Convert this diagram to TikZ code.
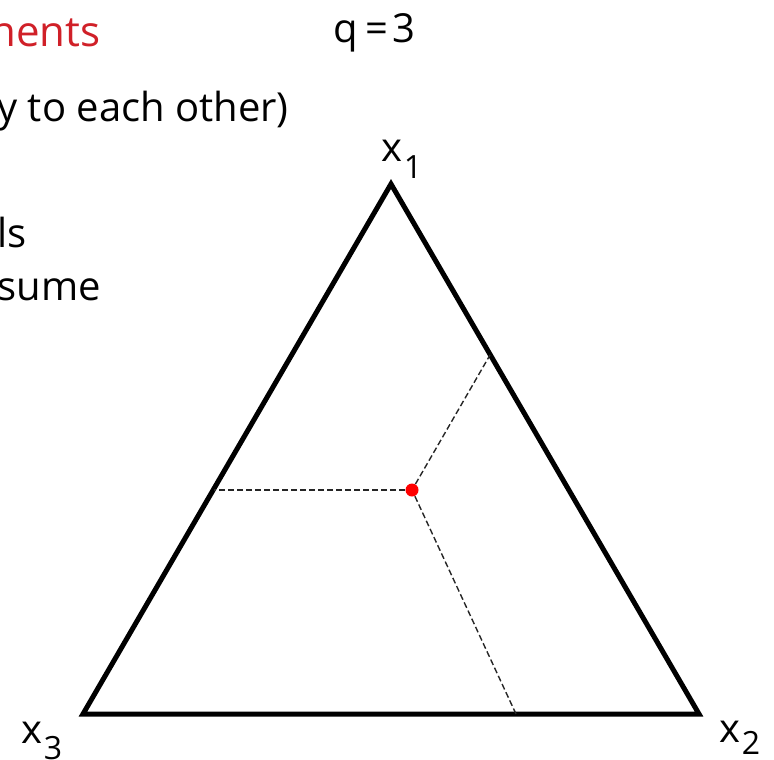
\documentclass[tikz,border=0pt]{standalone}
\usepackage{fontspec}
\setmainfont{Open Sans}
\definecolor{slideRed}{RGB}{208, 32, 40}
\newcommand{\vsub}[2][8pt]{\kern0.8pt\raisebox{-#1}{\fontsize{16}{16}\selectfont #2}}

\begin{document}
\begin{tikzpicture}[
    x=0.5pt, y=-0.5pt,
    body/.style={anchor=base west, inner sep=0pt, font=\fontsize{20}{24}\selectfont},
    heading/.style={body, text=slideRed, font=\fontsize{21}{25}\selectfont},
    vlabel/.style={anchor=base west, inner sep=0pt, font=\fontsize{20}{24}\selectfont},
    simplex/.style={line width=2.5pt, line join=miter},
    guide/.style={dash pattern=on 3pt off 1.5pt, line width=0.7pt, black!85},
    mixpt/.style={circle, fill=red, inner sep=0pt, minimum size=6.5pt},
  ]
    \useasboundingbox (0,0) rectangle (774,759);

    % slide text (cut at the left edge)
    \node[heading] (HEAD) at (-10,47) {nents};
    \node[body] (NOTE) at (-3,122) {y to each other)};
    \node[body] (LS) at (-3,247) {ls};
    \node[body] (SUME) at (-3,300) {sume};
    \node[body] (Q) at (333,43) {q\kern4pt=\kern2pt3};

    % simplex
    \coordinate (X1) at (391,184);
    \coordinate (X2) at (699,714);
    \coordinate (X3) at (83,714);
    \draw[simplex] (X1) -- (X2) -- (X3) -- cycle;

    \node[vlabel] (L1) at (381,162) {x\vsub[8.5pt]{1}};
    \node[vlabel] (L2) at (719,742) {x\vsub[6pt]{2}};
    \node[vlabel] (L3) at (21,743) {x\vsub[8pt]{3}};

    % mixture point and its guides to the edges
    \node[mixpt] (P) at (412,490) {};
    \coordinate (E31) at (214,490);
    \coordinate (E12) at (490,355);
    \coordinate (E23) at (516,714);
    \draw[guide] (P) -- (E31);
    \draw[guide] (P) -- (E12);
    \draw[guide] (P) -- (E23);
\end{tikzpicture}
\end{document}
